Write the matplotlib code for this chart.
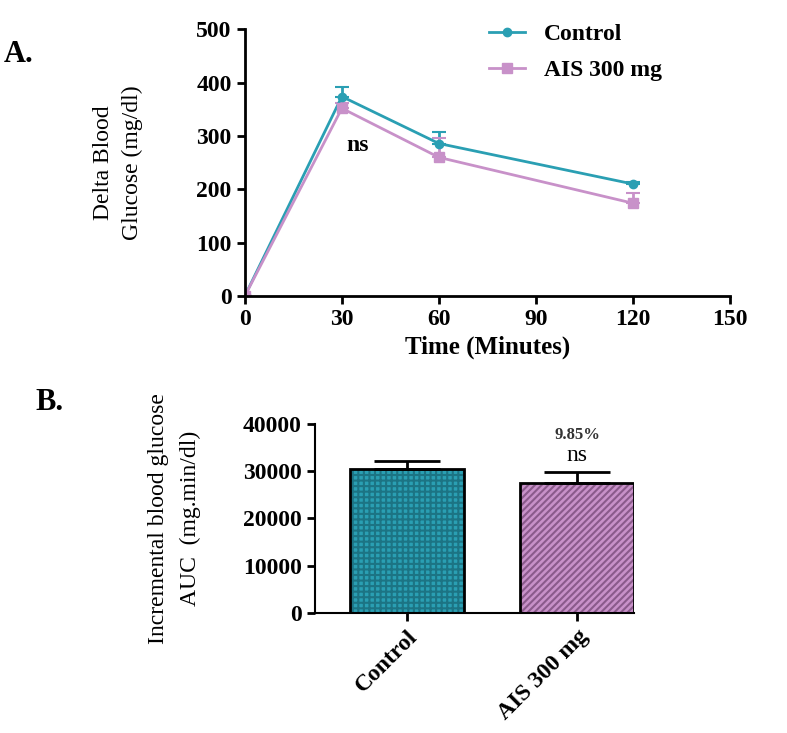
import numpy as np
import matplotlib.pyplot as plt
from matplotlib.lines import Line2D

plt.rcParams['font.family'] = ['Liberation Serif', 'DejaVu Serif']
plt.rcParams['hatch.linewidth'] = 1.5

# panel A data
time = [0, 30, 60, 120]
control = [0, 374, 286, 210]
control_err = [0, 18, 21, 4]
ais = [0, 352, 260, 174]
ais_err = [0, 10, 36, 19]

# panel B data
groups = ['Control', 'AIS 300 mg']
auc = [30500, 27500]
auc_err = [1500, 2300]

teal = '#2a9fb3'
pink = '#c891c9'
teal_dark = '#1c7484'
pink_dark = '#8a5a8b'

fig = plt.figure(figsize=(7.87, 7.33), dpi=100)

# ---- A ----
ax1 = fig.add_axes([0.311, 0.596, 0.617, 0.364])
ax1.errorbar(time, control, yerr=[np.zeros(4), control_err], color=teal, lw=2,
             marker='o', ms=6, capsize=5, capthick=1.5)
ax1.errorbar(time, ais, yerr=[np.zeros(4), ais_err], color=pink, lw=2,
             marker='s', ms=7, capsize=5, capthick=1.5)
ax1.set_xlim(0, 150)
ax1.set_ylim(0, 500)
ax1.set_xticks([0, 30, 60, 90, 120, 150])
ax1.set_yticks([0, 100, 200, 300, 400, 500])
for s in ['top', 'right']:
    ax1.spines[s].set_visible(False)
for s in ['left', 'bottom']:
    ax1.spines[s].set_linewidth(2)
ax1.tick_params(width=2, length=6, labelsize=17)
for lab in ax1.get_xticklabels() + ax1.get_yticklabels():
    lab.set_fontweight('bold')
ax1.set_xlabel('Time (Minutes)', fontsize=18, fontweight='bold')
ax1.set_ylabel('Delta Blood\nGlucose (mg/dl)', fontsize=17, labelpad=38, linespacing=1.5)
ax1.text(35, 283, 'ns', fontsize=17, fontweight='bold', ha='center', va='center')
handles = [Line2D([], [], color=teal, lw=2, marker='o', ms=6),
           Line2D([], [], color=pink, lw=2, marker='s', ms=7)]
ax1.legend(handles, ['Control', 'AIS 300 mg'], loc='upper left',
           bbox_to_anchor=(0.46, 1.10), frameon=False,
           prop={'size': 17, 'weight': 'bold'}, handlelength=1.5, labelspacing=0.6)
fig.text(0.005, 0.915, 'A.', fontsize=22, fontweight='bold')

# ---- B ----
ax2 = fig.add_axes([0.400, 0.164, 0.406, 0.258])
x = np.arange(len(groups))
ax2.bar(x[0], auc[0], width=0.67, color=teal, edgecolor=teal_dark, lw=0, hatch='+++')
ax2.bar(x[1], auc[1], width=0.67, color=pink, edgecolor=pink_dark, lw=0, hatch='/////')
ax2.bar(x, auc, width=0.67, fill=False, edgecolor='black', lw=2,
        yerr=[[0, 0], auc_err], capsize=24,
        error_kw={'elinewidth': 2, 'capthick': 2})
ax2.set_xlim(-0.541, 1.335)
ax2.set_ylim(0, 40000)
ax2.set_yticks([0, 10000, 20000, 30000, 40000])
ax2.set_xticks(x)
ax2.set_xticklabels(groups, rotation=45, ha='right', rotation_mode='anchor')
for s in ['top', 'right']:
    ax2.spines[s].set_visible(False)
for s in ['left', 'bottom']:
    ax2.spines[s].set_linewidth(1.5)
ax2.tick_params(width=2, length=6, labelsize=17)
for lab in ax2.get_xticklabels() + ax2.get_yticklabels():
    lab.set_fontweight('bold')
ax2.set_ylabel('Incremental blood glucose\nAUC  (mg.min/dl)', fontsize=17, labelpad=30,
               linespacing=1.7)
ax2.text(1, 37700, '9.85%', fontsize=12, fontweight='bold', ha='center', va='center',
         color='#333333')
ax2.text(1, 33200, 'ns', fontsize=17, ha='center', va='center')
fig.text(0.045, 0.44, 'B.', fontsize=22, fontweight='bold')

fig.savefig('out.png', dpi=100)
